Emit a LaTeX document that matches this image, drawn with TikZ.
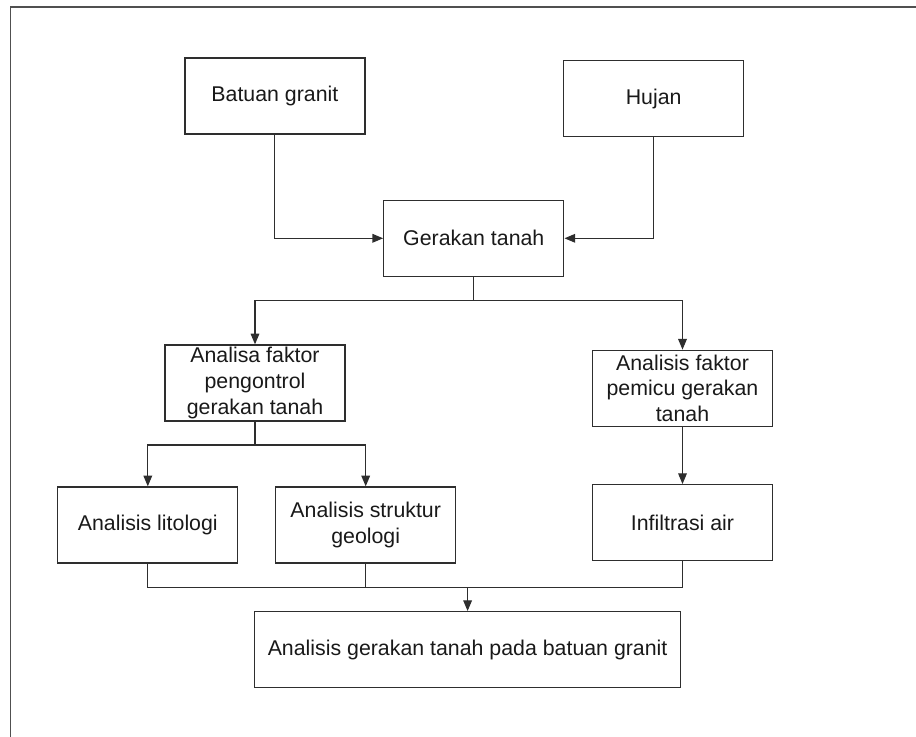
\documentclass[tikz,border=0pt]{standalone}
\usepackage{fontspec}
\setmainfont{Liberation Sans}
\usepackage{tikz}
\usetikzlibrary{arrows.meta}
\definecolor{linegray}{HTML}{2E2E2E}
\definecolor{framegray}{HTML}{505050}

\begin{document}
\begin{tikzpicture}[x=0.75pt,y=-0.75pt,semithick,
	box/.style={draw=linegray,line width=1pt,minimum width=135pt,minimum height=57pt,
		inner sep=0pt,align=center,text=black!90,font=\fontsize{16}{19.3}\selectfont},
	link/.style={draw=linegray,line width=0.85pt},
	arr/.style={link,-{Triangle[length=8pt,width=6.5pt]}}]
	
	\useasboundingbox (0,0) rectangle (916,737);
	\draw[framegray,line width=1.2pt] (10.5,737) -- (10.5,7.3) -- (916,7.3);
	
	\node[box] (batuan) at (274.9,96) {Batuan granit};
	\node[box] (hujan) at (653.7,98.7) {Hujan};
	\node[box] (gerakan) at (473.8,238.3) {Gerakan tanah};
	\node[box] (analisa) at (255,383) {Analisa faktor\\pengontrol\\gerakan tanah};
	\node[box] (pemicu) at (682.5,388.3) {Analisis faktor\\pemicu gerakan\\tanah};
	\node[box] (litologi) at (147.8,525) {Analisis litologi};
	\node[box] (struktur) at (365.7,525) {Analisis struktur\\geologi};
	\node[box] (infiltrasi) at (682.5,522.7) {Infiltrasi air};
	\node[box,minimum width=319.5pt] (hasil) at (467.6,649.7) {Analisis gerakan tanah pada batuan granit};
	
	\coordinate (split1) at (473.8,300.7);
	\coordinate (split2) at (255,445);
	\coordinate (join) at (467.6,587.3);
	
	\draw[arr] (batuan) |- (gerakan);
	\draw[arr] (hujan) |- (gerakan);
	\draw[link] (gerakan) -- (split1);
	\draw[arr] (split1) -| (analisa);
	\draw[arr] (split1) -| (pemicu);
	\draw[link] (analisa) -- (split2);
	\draw[arr] (split2) -| (litologi);
	\draw[arr] (split2) -| (struktur);
	\draw[arr] (pemicu) -- (infiltrasi);
	\draw[link] (litologi) |- (join);
	\draw[link] (struktur) |- (join);
	\draw[link] (infiltrasi) |- (join);
	\draw[arr] (join) -- (hasil);
\end{tikzpicture}
\end{document}
